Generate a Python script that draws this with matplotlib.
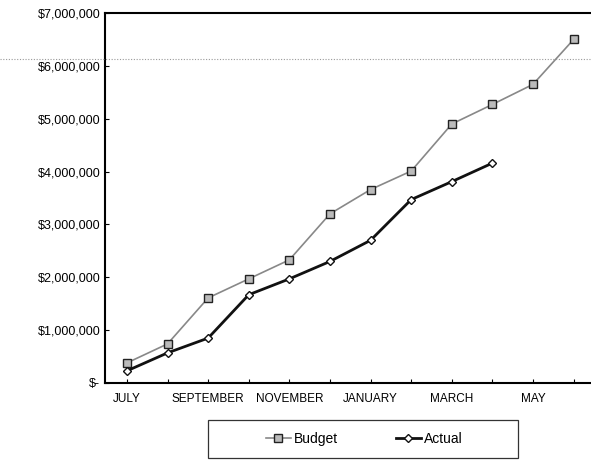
import matplotlib.pyplot as plt
from matplotlib.lines import Line2D
from matplotlib.patches import Rectangle
from matplotlib.ticker import FuncFormatter

months = ['JULY', 'AUGUST', 'SEPTEMBER', 'OCTOBER', 'NOVEMBER', 'DECEMBER',
          'JANUARY', 'FEBRUARY', 'MARCH', 'APRIL', 'MAY', 'JUNE']
budget = [380000, 740000, 1610000, 1970000, 2330000, 3200000,
          3660000, 4010000, 4900000, 5270000, 5650000, 6500000]
actual = [230000, 570000, 850000, 1670000, 1970000, 2300000,
          2700000, 3470000, 3810000, 4160000]

plt.rcParams['font.family'] = ['Liberation Sans', 'DejaVu Sans']

fig = plt.figure(figsize=(5.91, 4.61), dpi=100)
ax = fig.add_axes([0.1777, 0.1692, 0.83, 0.8026])

x_b = list(range(len(budget)))
x_a = list(range(len(actual)))

ax.plot(x_b, budget, color='#888888', lw=1.2, marker='s', ms=6,
        mfc='#bbbbbb', mec='#222222', mew=1.0, label='Budget')
ax.plot(x_a, actual, color='#111111', lw=2.0, marker='D', ms=4.5,
        mfc='white', mec='#111111', mew=1.0, label='Actual')

ax.set_xlim(-0.54, 11.54)
ax.set_ylim(0, 7000000)
ax.set_yticks(range(0, 7000001, 1000000))

def money(v, pos):
    if v == 0:
        return '$-'
    return '${:,.0f}'.format(v)

ax.yaxis.set_major_formatter(FuncFormatter(money))
ax.set_xticks(x_b)
ax.set_xticklabels([m if i % 2 == 0 else '' for i, m in enumerate(months)])
ax.tick_params(axis='both', direction='in', length=3, width=0.8,
               labelsize=9, colors='black')
ax.tick_params(axis='x', labelsize=8.5, pad=7)

for s in ['left', 'bottom', 'top']:
    ax.spines[s].set_linewidth(1.5)
ax.spines['right'].set_visible(False)

# faint dotted scan line across the page
fig.add_artist(Line2D([0, 1], [0.873, 0.873], color='#999999', lw=0.8,
                      ls=(0, (1, 1.5)), transform=fig.transFigure))

# legend box drawn separately so it can be wider than the entries
fig.add_artist(Rectangle((208 / 591, 3 / 461), 310 / 591, 38 / 461,
                         transform=fig.transFigure, fill=False,
                         edgecolor='#333333', lw=0.9))
leg = fig.legend(loc='center', bbox_to_anchor=(364 / 591, 22 / 461), ncol=2,
                 frameon=False, fontsize=10, handlelength=1.8,
                 handletextpad=0.2, columnspacing=4.2)

fig.savefig('out.png', dpi=100)
